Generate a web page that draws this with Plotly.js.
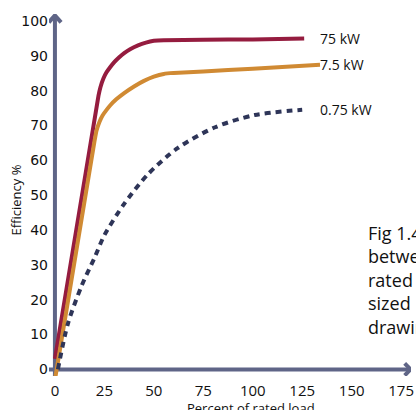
<!DOCTYPE html>
<html>
<head>
<meta charset="utf-8">
<script src="https://cdn.plot.ly/plotly-3.0.1.min.js"></script>
<style>html,body{margin:0;padding:0;background:#fff;}#chart{width:416px;height:410px;}</style>
</head>
<body>
<div id="chart"></div>
<script>
// Percent of rated load (x) and efficiency % (y) for each motor size
const load75 = [0, 22, 23, 24.5, 26, 28, 30, 32.5, 35, 38, 42, 46, 50, 55, 75, 100, 126];
const eff75  = [3, 78.5, 81, 83.5, 85.2, 86.8, 88.2, 89.6, 90.8, 91.9, 93, 93.8, 94.3, 94.5, 94.6, 94.7, 95];

const load7_5 = [0, 20, 21, 22.5, 24, 26, 28, 31, 35, 40, 45, 50, 55, 60, 75, 100, 134];
const eff7_5  = [-3, 65.5, 68.5, 71, 72.8, 74.4, 75.8, 77.5, 79.3, 81.2, 82.8, 84, 84.8, 85.1, 85.5, 86.3, 87.4];

const load0_75 = [1.5, 6.5, 13.5, 20, 25, 35, 47, 62, 81, 101, 125];
const eff0_75  = [0, 13, 24, 32, 38.5, 47.5, 56, 63.5, 69.5, 73, 74.5];

const seriesNames = ['75 kW', '7.5 kW', '0.75 kW'];
const xTicks = [0, 25, 50, 75, 100, 125, 150, 175];
const yTicks = [0, 10, 20, 30, 40, 50, 60, 70, 80, 90, 100];

const axisColor = '#5f6587';
const colors = ['#951c3f', '#d08a33', '#2e3558'];

const traces = [
  {x: load75, y: eff75, name: seriesNames[0], mode: 'lines', line: {color: colors[0], width: 4, shape: 'spline', smoothing: 0.3}},
  {x: load7_5, y: eff7_5, name: seriesNames[1], mode: 'lines', line: {color: colors[1], width: 4, shape: 'spline', smoothing: 0.3}},
  {x: load0_75, y: eff0_75, name: seriesNames[2], mode: 'lines', line: {color: colors[2], width: 4, dash: '6px,5px', shape: 'spline', smoothing: 0.8}}
];

const lastPt = (xs, ys) => [xs[xs.length - 1], ys[ys.length - 1]];
const labelAnns = [[load75, eff75], [load7_5, eff7_5], [load0_75, eff0_75]].map((s, i) => {
  const p = lastPt(s[0], s[1]);
  return {x: 133, y: p[1], xref: 'x', yref: 'y', text: seriesNames[i], showarrow: false,
          xanchor: 'left', yanchor: 'middle', font: {family: 'Open Sans', size: 14, color: '#111'}};
});

const layout = {
  width: 416, height: 410,
  margin: {l: 49, r: 5, t: 14, b: 34},
  paper_bgcolor: '#fff', plot_bgcolor: '#fff',
  showlegend: false,
  xaxis: {range: [-3, 180], tickvals: xTicks, ticktext: xTicks.map(String), showgrid: false, zeroline: false,
          showline: false, ticks: '', ticklabelstandoff: 4, ticklabeloverflow: 'allow',
          tickfont: {family: 'Open Sans', size: 15, color: '#111'}},
  yaxis: {range: [-1.9, 102], tickvals: yTicks, showgrid: false, zeroline: false, showline: false, ticks: '',
          tickfont: {family: 'DejaVu Sans', size: 14, color: '#111'}},
  shapes: [
    {type: 'line', xref: 'x', yref: 'y', x0: -3, x1: 180, y0: 0, y1: 0, line: {color: axisColor, width: 4}, layer: 'below'},
    {type: 'line', xref: 'x', yref: 'y', x0: 0, x1: 0, y0: -3, y1: 101.5, line: {color: axisColor, width: 4}, layer: 'below'},
    {type: 'path', xref: 'x', yref: 'y', path: 'M -3.1,99.6 L 0,101.6 L 3.1,99.6', line: {color: axisColor, width: 4}},
    {type: 'path', xref: 'x', yref: 'y', path: 'M 176.8,1.75 L 179.8,0 L 176.8,-1.75', line: {color: axisColor, width: 4}}
  ],
  annotations: labelAnns.concat([
    {x: 99, y: -0.088, xref: 'x', yref: 'paper', text: 'Percent of rated load', showarrow: false,
     xanchor: 'center', yanchor: 'middle', font: {family: 'Open Sans', size: 13, color: '#111'}},
    {x: -0.09, y: 48.6, xref: 'paper', yref: 'y', text: 'Efficiency %', textangle: -90, showarrow: false,
     xanchor: 'center', yanchor: 'middle', font: {family: 'Open Sans', size: 13, color: '#111'}},
    {x: 0.875, y: 0.435, xref: 'paper', yref: 'paper', align: 'left', xanchor: 'left', yanchor: 'top', showarrow: false,
     text: 'Fig 1.4 Relationship<br>between efficiency and<br>rated load for different<br>sized motors (not<br>drawing to scale)',
     font: {family: 'Open Sans', size: 18, color: '#111'}}
  ])
};

Plotly.newPlot('chart', traces, layout, {displayModeBar: false, staticPlot: true});
</script>
</body>
</html>
